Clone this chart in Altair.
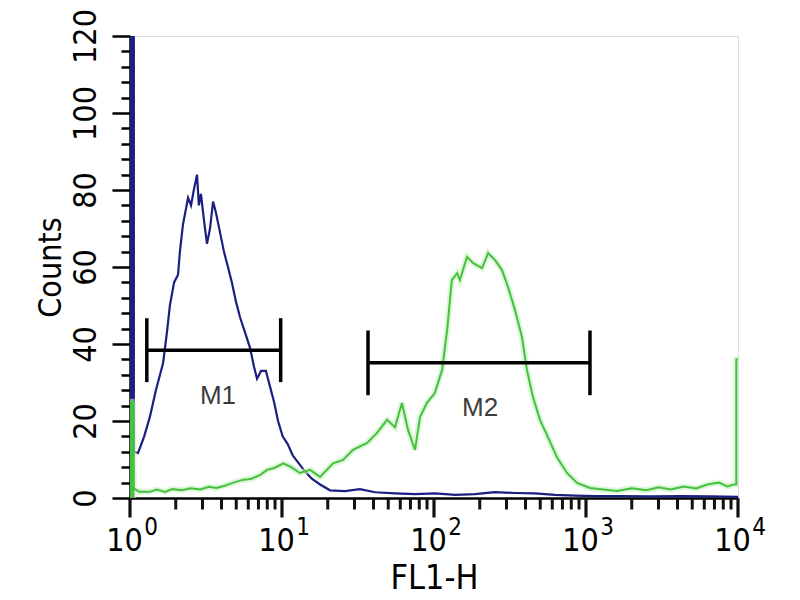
import altair as alt
import pandas as pd

# ---------------- data ----------------
blue_x = [1.0, 1.0, 1.025, 1.025, 1.05, 1.05, 1.06, 1.06, 1.13, 1.24, 1.35, 1.48, 1.65, 1.75, 1.83, 1.95, 2.07, 2.13,
          2.23, 2.41, 2.52, 2.63, 2.76, 2.84, 2.93, 3.07, 3.21, 3.36, 3.52, 3.68, 3.91,
          4.15, 4.41, 4.68, 4.98, 5.29, 5.71, 6.16, 6.55, 6.85, 7.28, 7.84, 8.33, 8.86,
          9.42, 10.1, 10.9, 11.8, 12.9, 14.1, 15.7, 17.8, 20.7, 25.9, 32.6, 41.0, 55.5,
          75.0, 102, 138, 186, 251, 342, 460, 626, 845, 1140, 1670, 2640, 4170, 6590, 10000]
blue_y = [0, 300, 300, 0, 0, 300, 300, 12, 11.7, 16, 21, 28, 35, 43, 50, 56, 58, 64,
          71, 78, 76, 80, 84, 76, 79, 72, 66, 70, 77, 74, 69,
          64, 60, 56, 51, 47, 43, 39, 34, 31, 33, 33, 29, 25,
          20, 16, 14, 11, 9, 7, 5, 3.5, 2, 1.8, 2.3, 1.5, 1.2,
          1.0, 1.2, 0.8, 1.0, 1.5, 1.3, 1.2, 0.8, 0.6, 0.5, 0.5, 0.4, 0.5, 0.4, 0.3]

green_x = [1.0, 1.0, 1.025, 1.025, 1.05, 1.05, 1.06, 1.15, 1.35, 1.5, 1.7, 1.9, 2.2, 2.5, 2.9, 3.3, 3.7, 4.2,
           4.8, 5.5, 6.3, 7.2, 7.96, 8.9, 10.2, 11.5, 13.1, 15.3, 17.8, 21.7, 25.2,
           29.3, 36.3, 42.2, 49.1, 55.4, 61.5, 67.5, 75.0, 80.9, 89.9, 101, 113, 122,
           131, 142, 148, 165, 181, 207, 227, 252, 280, 307, 341, 379, 409, 448, 498,
           562, 644, 750, 873, 1062, 1300, 1600, 2000, 2500, 3000, 3600, 4400, 5300,
           6300, 7500, 8500, 9400, 9750, 9750, 10000]
green_y = [0, 25, 25, 0, 0, 25, 2.5, 1.6, 1.6, 2.2, 1.6, 2.3, 2.0, 2.5, 2.2, 2.9, 2.6, 3.2,
           4.0, 4.7, 5.0, 6.0, 7.3, 7.8, 9.0, 8.0, 6.5, 7.3, 5.5, 9.0, 9.9,
           12.5, 14.3, 16.9, 20.3, 18.4, 24.7, 17.7, 12.5, 21.0, 24.7, 27.2, 33.2, 43.6,
           56.6, 58.4, 56.6, 62.6, 61.0, 59.7, 63.6, 61.8, 59.2, 54.8, 48.8, 41.8, 33.2,
           26.2, 20.3, 15.8, 10.6, 6.5, 3.9, 2.6, 2.2, 1.8, 2.5, 2.0, 2.8, 2.2, 3.0, 2.5,
           3.5, 4.0, 3.0, 3.5, 3.5, 36, 36]

marker_names = ["M1", "M2"]
marker_lo = [1.29, 36.8]
marker_hi = [9.8, 1062]
marker_level = [38.4, 35.1]
marker_half = [8.3, 8.4]
marker_label_x = [3.79, 201]
marker_label_y = [26.6, 23.4]

x_decades = [1, 10, 100, 1000, 10000]
x_exponents = ["0", "1", "2", "3", "4"]
x_minor_values = [m * 10 ** k for k in range(4) for m in range(2, 10)]
y_tick_values = list(range(0, 121, 4))

FONT = "Liberation Sans Narrow, DejaVu Sans Condensed, Arial Narrow, sans-serif"

blue_df = pd.DataFrame({"fl1": blue_x, "count": blue_y, "i": range(len(blue_x))})
green_df = pd.DataFrame({"fl1": green_x, "count": green_y, "i": range(len(green_x))})
mk_df = pd.DataFrame({
    "name": marker_names, "lo": marker_lo, "hi": marker_hi, "level": marker_level,
    "bot": [l - h for l, h in zip(marker_level, marker_half)],
    "top": [l + h for l, h in zip(marker_level, marker_half)],
    "lx": marker_label_x, "ly": marker_label_y,
})
exp_df = pd.DataFrame({"fl1": [float(v) for v in x_decades], "exp": x_exponents})
minor_df = pd.DataFrame({"fl1": [float(v) for v in x_minor_values]})

x_scale = alt.Scale(type="log", domain=[1, 10000], nice=False)
y_scale = alt.Scale(domain=[0, 120], nice=False)

x_axis = alt.Axis(
    values=x_decades, tickCount=200,
    labelExpr="'10'",
    ticks=False,
    domainColor="black", domainWidth=2.5,
    labelFont=FONT, labelFontSize=32, labelColor="black",
    labelFlush=False, labelOverlap=False, labelOffset=-6, labelPadding=27,
    title="FL1-H", titleFont=FONT, titleFontSize=34, titleColor="black",
    titleFontWeight="normal", titlePadding=5, grid=False,
)
y_axis = alt.Axis(
    values=y_tick_values, tickCount=200,
    labelExpr="datum.value % 20 == 0 ? format(datum.value, 'd') : ''",
    tickSize={"condition": {"test": "datum.value % 20 == 0", "value": 18}, "value": 9},
    tickWidth=2.5, tickColor="black",
    domainColor="black", domainWidth=2.5,
    labelFont=FONT, labelFontSize=32, labelColor="black",
    labelAngle=270, labelAlign="center", labelBaseline="bottom",
    labelOverlap=False, labelPadding=10,
    title="Counts", titleFont=FONT, titleFontSize=32, titleColor="black",
    titleFontWeight="normal", titlePadding=2, grid=False,
)

base_x = alt.X("fl1:Q", scale=x_scale, axis=x_axis)
base_y = alt.Y("count:Q", scale=y_scale, axis=y_axis)

blue = alt.Chart(blue_df).mark_line(color="#1a1f80", strokeWidth=2.2, clip=True).encode(
    x=base_x, y=base_y, order="i:Q")
green_halo = alt.Chart(green_df).mark_line(color="#c4f2bc", strokeWidth=6, opacity=0.6, clip=True).encode(
    x=alt.X("fl1:Q", scale=x_scale), y=alt.Y("count:Q", scale=y_scale), order="i:Q")
green = alt.Chart(green_df).mark_line(color="#45c040", strokeWidth=2, clip=True).encode(
    x=alt.X("fl1:Q", scale=x_scale), y=alt.Y("count:Q", scale=y_scale), order="i:Q")

hbar = alt.Chart(mk_df).mark_rule(color="black", strokeWidth=3.5).encode(
    x=alt.X("lo:Q", scale=x_scale), x2="hi:Q", y=alt.Y("level:Q", scale=y_scale))
lcap = alt.Chart(mk_df).mark_rule(color="black", strokeWidth=3.5).encode(
    x=alt.X("lo:Q", scale=x_scale), y=alt.Y("bot:Q", scale=y_scale), y2="top:Q")
rcap = alt.Chart(mk_df).mark_rule(color="black", strokeWidth=3.5).encode(
    x=alt.X("hi:Q", scale=x_scale), y=alt.Y("bot:Q", scale=y_scale), y2="top:Q")
mlabels = alt.Chart(mk_df).mark_text(
    font="Liberation Sans, Arial, sans-serif", fontSize=26, color="#3c3c3c",
    align="center", baseline="middle").encode(
    x=alt.X("lx:Q", scale=x_scale), y=alt.Y("ly:Q", scale=y_scale), text="name:N")

# log ticks below the x axis: minor (2..9 per decade) and major (decades)
minor_ticks = alt.Chart(minor_df).mark_tick(
    color="#111111", thickness=3, size=11, orient="vertical", clip=False, opacity=1).encode(
    x=alt.X("fl1:Q", scale=x_scale), y=alt.value(468))
major_ticks = alt.Chart(exp_df).mark_tick(
    color="#111111", thickness=3.2, size=19, orient="vertical", clip=False, opacity=1).encode(
    x=alt.X("fl1:Q", scale=x_scale), y=alt.value(472))

exps = alt.Chart(exp_df).mark_text(
    font=FONT, fontSize=24, color="black", align="center", baseline="middle", dx=21).encode(
    x=alt.X("fl1:Q", scale=x_scale), y=alt.value(492), text="exp:N")

chart = alt.layer(blue, green_halo, green, hbar, lcap, rcap, mlabels,
                  minor_ticks, major_ticks, exps).properties(
    width=608, height=462,
    autosize=alt.AutoSizeParams(type="none"),
    padding={"left": 122, "top": 28, "right": 40, "bottom": 100},
).configure_view(stroke="#333333", strokeWidth=2).configure(background="white")

chart.save("out.html", embed_options={"renderer": "svg", "actions": False})
